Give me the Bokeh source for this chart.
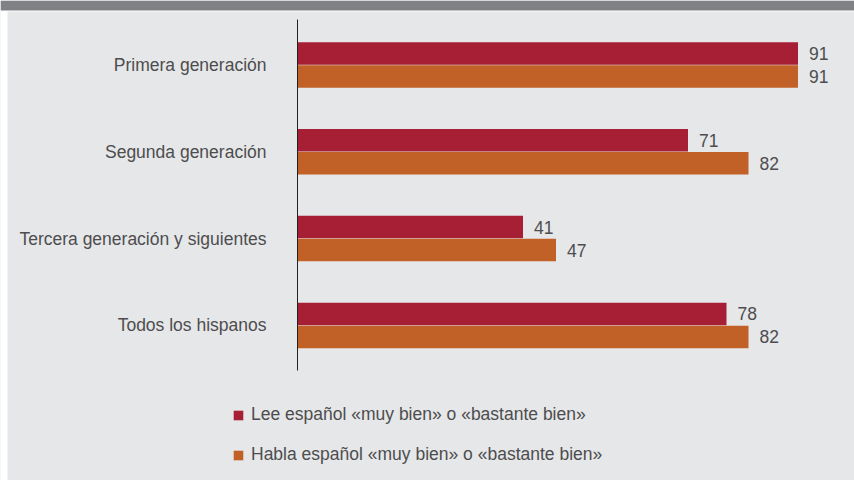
from bokeh.plotting import figure
from bokeh.models import Range1d, Legend, LegendItem, ColumnDataSource, BoxAnnotation
from bokeh.core.properties import value
from bokeh.embed import file_html
from bokeh.resources import INLINE

categories = ["Primera generación", "Segunda generación",
              "Tercera generación y siguientes", "Todos los hispanos"]
lee = [91, 71, 41, 78]
habla = [91, 82, 47, 82]
series_labels = ["Lee español «muy bien» o «bastante bien»",
                 "Habla español «muy bien» o «bastante bien»"]

RED = "#a61f35"
ORANGE = "#c16128"
BG = "#e6e7e8"
BAND = "#808184"
TXT = "#4d4d4f"
FONT = "Liberation Sans"
FS = "17.5px"

W, H = 854, 480
X0_PX, PX_PER_UNIT = 297, 5.5          # layout of the value scale
Y0_PX, PX_PER_CAT = 64.5, 86.8         # layout of the category scale
OFF, BAR_H = 0.1325, 0.259

idx = list(range(len(categories)))
src = ColumnDataSource(dict(
    cat=categories, i=idx,
    i_lee=[i - OFF for i in idx], i_habla=[i + OFF for i in idx],
    lee=lee, habla=habla,
    lee_t=[str(v) for v in lee], habla_t=[str(v) for v in habla],
    zero=[0] * len(idx)))

p = figure(width=W, height=H,
           x_range=Range1d(-X0_PX / PX_PER_UNIT, (W - X0_PX) / PX_PER_UNIT),
           y_range=Range1d((H - Y0_PX) / PX_PER_CAT, -Y0_PX / PX_PER_CAT),
           output_backend="svg", toolbar_location=None,
           min_border=0, x_axis_type=None, y_axis_type=None)

p.background_fill_color = BG
p.border_fill_color = BG
p.outline_line_color = None
p.grid.visible = False

# page frame: white left strip, white hairline, dark header band (screen y counts from bottom)
p.add_layout(BoxAnnotation(left=0, right=7, left_units="screen", right_units="screen",
                           fill_color="white", fill_alpha=1, line_color=None))
p.add_layout(BoxAnnotation(top=H, bottom=H - 11, top_units="screen", bottom_units="screen",
                           fill_color="white", fill_alpha=1, line_color=None))
p.add_layout(BoxAnnotation(top=H, bottom=H - 10, top_units="screen", bottom_units="screen",
                           fill_color=BAND, fill_alpha=1, line_color=None))

r1 = p.hbar(y="i_lee", right="lee", left=0, height=BAR_H,
            source=src, fill_color=RED, line_color=None)
r2 = p.hbar(y="i_habla", right="habla", left=0, height=BAR_H,
            source=src, fill_color=ORANGE, line_color=None)

# value labels
p.text(x="lee", y="i_lee", text="lee_t", source=src,
       x_offset=11, text_baseline="middle", text_align="left",
       text_font=value(FONT), text_font_size=FS, text_color=TXT)
p.text(x="habla", y="i_habla", text="habla_t", source=src,
       x_offset=11, text_baseline="middle", text_align="left",
       text_font=value(FONT), text_font_size=FS, text_color=TXT)

# category axis: labels and vertical axis line
p.text(x="zero", y="i", text="cat", source=src,
       x_offset=-31, text_baseline="middle", text_align="right",
       text_font=value(FONT), text_font_size=FS, text_color=TXT)
p.segment(x0=[0], x1=[0], y0=[-0.524], y1=[len(categories) - 0.48],
          line_color="#222222", line_width=1)

legend = Legend(items=[LegendItem(label=series_labels[0], renderers=[r1]),
                       LegendItem(label=series_labels[1], renderers=[r2])],
                location=(232, 15), orientation="vertical",
                glyph_width=12, glyph_height=12, label_standoff=7,
                spacing=19, label_height=12, padding=0, margin=0,
                border_line_color=None, background_fill_alpha=0,
                label_text_font=FONT, label_text_font_size=FS,
                label_text_color=TXT)
p.add_layout(legend, "center")

open("out.html", "w").write(file_html(p, INLINE))
